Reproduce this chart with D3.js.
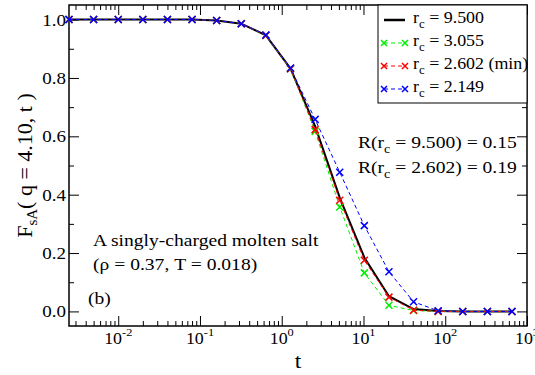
<!DOCTYPE html>
<html>
<head>
<meta charset="utf-8">
<script src="https://cdn.jsdelivr.net/npm/d3@7"></script>
<style>
  body { margin: 0; background: #fff; }
  svg { display: block; }
  svg text { font-family: "Liberation Serif", "DejaVu Serif", serif; }
</style>
</head>
<body>
<div id="chart"></div>
<script>
// Time points (doubling), shared by all series.
const times = [0.0025, 0.005, 0.01, 0.02, 0.04, 0.08, 0.16, 0.32, 0.64, 1.28,
  2.56, 5.12, 10.24, 20.48, 40.96, 81.92, 163.84, 327.68, 655.36];

// F_sA(q, t) for each cutoff radius.
const rc9500 = [1, 1, 1, 1, 1, 1, 0.997, 0.986, 0.946, 0.832,
  0.635, 0.39, 0.185, 0.052, 0.008, 0.001, 0, 0, 0];
const rc3055 = [1, 1, 1, 1, 1, 1, 0.997, 0.986, 0.946, 0.831,
  0.617, 0.358, 0.132, 0.021, 0.003, 0, 0, 0, 0];
const rc2602 = [1, 1, 1, 1, 1, 1, 0.997, 0.986, 0.946, 0.832,
  0.623, 0.381, 0.175, 0.049, 0.004, 0, 0, 0, 0];
const rc2149 = [1, 1, 1, 1, 1, 1, 0.997, 0.986, 0.947, 0.834,
  0.658, 0.477, 0.294, 0.136, 0.033, 0.002, 0, 0, 0];

const seriesNames = ["9.500", "3.055", "2.602 (min)", "2.149"];
const seriesColors = ["#000000", "#00ee00", "#ff0000", "#0000ff"];
const seriesValues = [rc9500, rc3055, rc2602, rc2149];

const yTicks = [0, 0.2, 0.4, 0.6, 0.8, 1.0];
const yMinorTicks = [0.1, 0.3, 0.5, 0.7, 0.9];
const xDecades = [-2, -1, 0, 1, 2, 3];

const width = 535;
const height = 375;
const margin = { top: 5, right: 8, bottom: 49, left: 69 };
// The original figure is a little stretched sideways, so its text is too.
const stretch = 1.12;

const svg = d3.select("#chart")
  .append("svg")
  .attr("width", width)
  .attr("height", height)
  .attr("font-family", "Liberation Serif, serif");

// Scales.
const x = d3.scaleLog()
  .domain([0.0025, 1000])
  .range([margin.left, width - margin.right]);

const y = d3.scaleLinear()
  .domain([-0.05, 1.05])
  .range([height - margin.bottom, margin.top]);

const x0 = margin.left, x1 = width - margin.right;
const y0 = height - margin.bottom, y1 = margin.top;

const at = (px, py) => `translate(${px},${py}) scale(${stretch},1)`;

// Minor log ticks: 2..9 times each decade inside the domain.
const xMinor = [];
for (let e = -3; e < 3; e++) {
  for (let k = 2; k <= 9; k++) {
    const v = k * Math.pow(10, e);
    if (v > 0.0025 && v < 1000) xMinor.push(v);
  }
}
const xMajor = xDecades.map((e) => Math.pow(10, e));

function styleAxis(g) {
  g.select(".domain").remove();
  g.selectAll("line").attr("stroke", "#000").attr("stroke-width", 1);
  g.selectAll("text").remove();
}

// Bottom and top axes (ticks point inward).
svg.append("g")
  .attr("transform", `translate(0,${y0})`)
  .call(d3.axisBottom(x).tickValues(xMajor).tickSize(-10))
  .call(styleAxis);
svg.append("g")
  .attr("transform", `translate(0,${y0})`)
  .call(d3.axisBottom(x).tickValues(xMinor).tickSize(-5))
  .call(styleAxis);
svg.append("g")
  .attr("transform", `translate(0,${y1})`)
  .call(d3.axisTop(x).tickValues(xMajor).tickSize(-10))
  .call(styleAxis);
svg.append("g")
  .attr("transform", `translate(0,${y1})`)
  .call(d3.axisTop(x).tickValues(xMinor).tickSize(-5))
  .call(styleAxis);

// Left and right axes.
svg.append("g")
  .attr("transform", `translate(${x0},0)`)
  .call(d3.axisLeft(y).tickValues(yTicks).tickSize(-10))
  .call(styleAxis);
svg.append("g")
  .attr("transform", `translate(${x0},0)`)
  .call(d3.axisLeft(y).tickValues(yMinorTicks).tickSize(-5))
  .call(styleAxis);
svg.append("g")
  .attr("transform", `translate(${x1},0)`)
  .call(d3.axisRight(y).tickValues(yTicks).tickSize(-10))
  .call(styleAxis);
svg.append("g")
  .attr("transform", `translate(${x1},0)`)
  .call(d3.axisRight(y).tickValues(yMinorTicks).tickSize(-5))
  .call(styleAxis);

// Y tick labels.
svg.selectAll("text.ylab")
  .data(yTicks)
  .join("text")
  .attr("class", "ylab")
  .attr("transform", (d) => at(x0 - 3, y(d)))
  .attr("dy", "0.35em")
  .attr("text-anchor", "end")
  .attr("font-size", 17)
  .text((d) => d.toFixed(1));

// X tick labels with superscript exponents.
const xl = svg.selectAll("text.xlab")
  .data(xDecades)
  .join("text")
  .attr("class", "xlab")
  .attr("transform", (d) => at(x(Math.pow(10, d)), 344))
  .attr("text-anchor", "middle")
  .attr("font-size", 16);
xl.append("tspan").text("10");
xl.append("tspan")
  .attr("font-size", 11)
  .attr("dy", -8)
  .text((d) => d);

// Axis titles.
svg.append("text")
  .attr("transform", at((x0 + x1) / 2, 368))
  .attr("text-anchor", "middle")
  .attr("font-size", 21)
  .text("t");

const yTitle = svg.append("text")
  .attr("transform", `translate(32,${(y0 + y1) / 2}) rotate(-90)`)
  .attr("text-anchor", "middle")
  .attr("font-size", 22);
yTitle.append("tspan").text("F");
yTitle.append("tspan").attr("font-size", 15).attr("dy", 5).text("sA");
yTitle.append("tspan").attr("dy", -5).text("( q = 4.10, t )");

// Frame.
svg.append("rect")
  .attr("x", x0)
  .attr("y", y1)
  .attr("width", x1 - x0)
  .attr("height", y0 - y1)
  .attr("fill", "none")
  .attr("stroke", "#000")
  .attr("stroke-width", 1.5);

// Data lines.
const line = d3.line()
  .x((d) => x(d[0]))
  .y((d) => y(d[1]));

seriesValues.forEach((vals, i) => {
  const pts = times.map((t, j) => [t, vals[j]]);
  const solid = i === 0;
  svg.append("path")
    .datum(pts)
    .attr("fill", "none")
    .attr("stroke", seriesColors[i])
    .attr("stroke-width", solid ? 2 : 1)
    .attr("stroke-dasharray", solid ? null : "4,3")
    .attr("d", line);
  if (!solid) {
    const s = 3.5;
    svg.append("g")
      .selectAll("path")
      .data(pts)
      .join("path")
      .attr("fill", "none")
      .attr("stroke", seriesColors[i])
      .attr("stroke-width", 1.5)
      .attr("d", (d) => {
        const px = x(d[0]), py = y(d[1]);
        return `M${px - s},${py - s}L${px + s},${py + s}M${px - s},${py + s}L${px + s},${py - s}`;
      });
  }
});

// Legend.
const legX = 378, legY = y1;
svg.append("rect")
  .attr("x", legX)
  .attr("y", legY)
  .attr("width", x1 - legX)
  .attr("height", 98)
  .attr("fill", "#fff")
  .attr("stroke", "#000")
  .attr("stroke-width", 1);

seriesNames.forEach((name, i) => {
  const ly = 20 + i * 23;
  const solid = i === 0;
  const g = svg.append("g");
  g.append("line")
    .attr("x1", 384).attr("x2", 405)
    .attr("y1", ly).attr("y2", ly)
    .attr("stroke", seriesColors[i])
    .attr("stroke-width", solid ? 2.5 : 1)
    .attr("stroke-dasharray", solid ? null : "4,3");
  if (!solid) {
    [384, 405].forEach((px) => {
      const s = 3;
      g.append("path")
        .attr("stroke", seriesColors[i])
        .attr("stroke-width", 1.5)
        .attr("d", `M${px - s},${ly - s}L${px + s},${ly + s}M${px - s},${ly + s}L${px + s},${ly - s}`);
    });
  }
  const t = g.append("text")
    .attr("transform", at(413, ly + 3))
    .attr("font-size", 16);
  t.append("tspan").text("r");
  t.append("tspan").attr("font-size", 11.5).attr("dy", 5).text("c");
  t.append("tspan").attr("dy", -5).text(" = " + name);
});

// Annotations.
function rText(px, py, rc, val) {
  const t = svg.append("text")
    .attr("transform", at(px, py))
    .attr("font-size", 17.5);
  t.append("tspan").text("R(r");
  t.append("tspan").attr("font-size", 12.5).attr("dy", 5).text("c");
  t.append("tspan").attr("dy", -5).text(` = ${rc}) = ${val}`);
}
rText(358, 148, "9.500", "0.15");
rText(358, 173, "2.602", "0.19");

svg.append("text")
  .attr("transform", at(93, 246))
  .attr("font-size", 17.5)
  .text("A singly-charged molten salt");
svg.append("text")
  .attr("transform", at(93, 270))
  .attr("font-size", 17.5)
  .text("(ρ = 0.37, T = 0.018)");
svg.append("text")
  .attr("transform", at(88, 304))
  .attr("font-size", 17.5)
  .text("(b)");
</script>
</body>
</html>
